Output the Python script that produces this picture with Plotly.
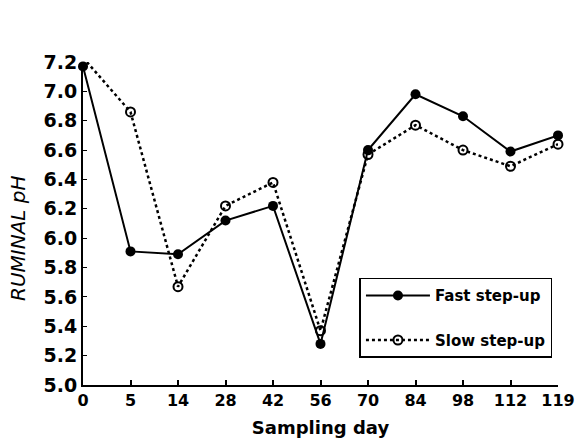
import plotly.graph_objects as go

days = ["0", "5", "14", "28", "42", "56", "70", "84", "98", "112", "119"]
fast_ph = [7.17, 5.91, 5.89, 6.12, 6.22, 5.28, 6.60, 6.98, 6.83, 6.59, 6.70]
slow_ph = [7.23, 6.86, 5.67, 6.22, 6.38, 5.37, 6.57, 6.77, 6.60, 6.49, 6.64]
y_ticks = [5.0, 5.2, 5.4, 5.6, 5.8, 6.0, 6.2, 6.4, 6.6, 6.8, 7.0, 7.2]

xi = list(range(len(days)))
FONT = "DejaVu Sans"

fig = go.Figure()
fig.add_trace(go.Scatter(
    x=xi, y=fast_ph, name="Fast step-up", mode="lines+markers",
    line=dict(color="black", width=2),
    marker=dict(symbol="circle", size=10, color="black"),
    cliponaxis=False, legendgroup="a",
))
fig.add_trace(go.Scatter(
    x=xi, y=slow_ph, name="Slow step-up", mode="lines+markers",
    line=dict(color="black", width=2.5, dash="dot"),
    marker=dict(symbol="circle-open", size=9, color="black", line=dict(width=2)),
    cliponaxis=False, legendgroup="b",
))

fig.update_layout(
    width=575, height=440,
    margin=dict(l=83, r=17, t=62, b=55, autoexpand=False),
    paper_bgcolor="white", plot_bgcolor="white",
    font=dict(family=FONT, color="black"),
    showlegend=True,
    legend=dict(
        x=0.582, y=0.332, xanchor="left", yanchor="top",
        bordercolor="black", borderwidth=1.5, bgcolor="white",
        font=dict(family=FONT, size=15, weight="bold"),
        tracegroupgap=22, itemwidth=64,
    ),
    xaxis=dict(
        range=[0, 10], tickmode="array", tickvals=xi, ticktext=days,
        automargin=False, ticklabeloverflow="allow",
        showgrid=False, zeroline=False, showline=True, linecolor="black", linewidth=2,
        ticks="inside", ticklen=5, tickwidth=1.5, tickcolor="black",
        tickfont=dict(family=FONT, size=16, weight="bold"),
        title=dict(text="Sampling day", font=dict(family=FONT, size=18, weight="bold"), standoff=12),
    ),
    yaxis=dict(
        range=[5.0, 7.2], tickmode="array", tickvals=y_ticks,
        ticktext=[f"{v:.1f}" for v in y_ticks],
        automargin=False,
        showgrid=False, zeroline=False, showline=True, linecolor="black", linewidth=2,
        ticks="inside", ticklen=4, tickwidth=1.2, tickcolor="black",
        tickfont=dict(family=FONT, size=19, weight="bold"),
    ),
    annotations=[dict(
        text="RUMINAL pH", textangle=-90, xref="paper", yref="paper",
        x=-0.137, y=0.455, xanchor="center", yanchor="middle", showarrow=False,
        font=dict(family=FONT, size=20, style="italic", color="black"),
    )],
)

fig.write_html("out.html", config={"displayModeBar": False},
               post_script="document.body.style.margin='0';")
